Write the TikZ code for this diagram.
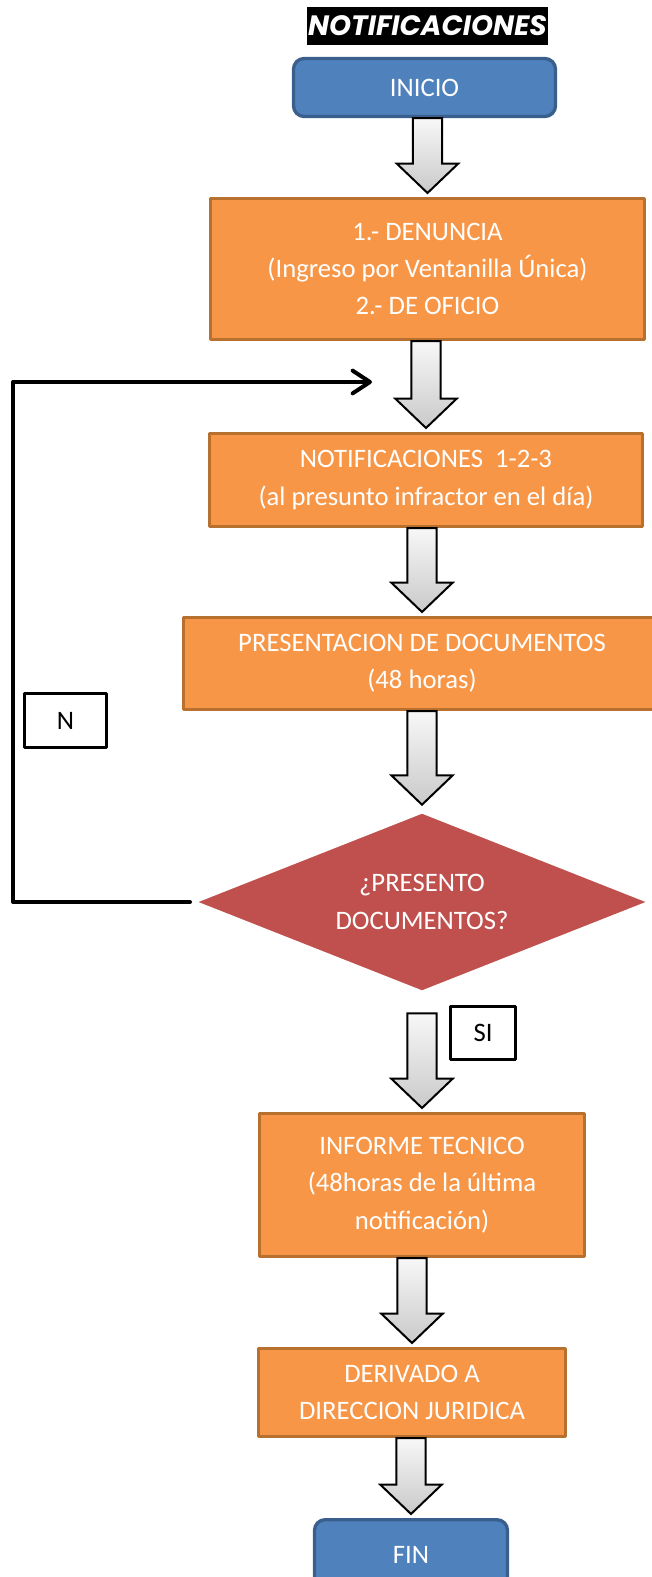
\documentclass[tikz,border=0pt]{standalone}
\usepackage{fontspec}
\setmainfont{Carlito}
\newfontfamily\titlefont{Poppins}
\usepackage{tikz}
\usetikzlibrary{arrows.meta, positioning, calc, shapes.geometric}
\definecolor{inicioblue}{HTML}{4F81BD}
\definecolor{inicioedge}{HTML}{3A5F8C}
\definecolor{pasoorange}{HTML}{F79646}
\definecolor{pasoedge}{HTML}{B8702F}
\definecolor{decred}{HTML}{C0504D}

\newcommand{\blkarrow}[2]{%
  \path[blkarr] let \p1=(#1), \p2=(#2) in
    (\x2-11pt,\y1) -- (\x2-11pt,\y2+25pt) -- (\x2-23pt,\y2+25pt) -- (\x2,\y2+3pt)
    -- (\x2+23pt,\y2+25pt) -- (\x2+11pt,\y2+25pt) -- (\x2+11pt,\y1) -- cycle;}

\begin{document}
\begin{tikzpicture}[x=0.75pt, y=-0.75pt, line join=round]
        \tikzset{txt/.style={font=\fontsize{20}{28}\selectfont}}
        \tikzset{paso/.style={rectangle, draw=pasoedge, fill=pasoorange, line width=2.25pt,
                              text=white, align=center, inner sep=0pt, txt}}
        \tikzset{extremo/.style={rectangle, rounded corners=8pt, draw=inicioedge, fill=inicioblue,
                                 line width=2.5pt, text=white, inner sep=0pt, txt}}
        \tikzset{decision/.style={diamond, aspect=2.5, draw=white, line width=3pt, fill=decred,
                                  text=white, align=center, inner sep=0pt, txt}}
        \tikzset{etiqueta/.style={rectangle, draw=black, line width=2.25pt, fill=white,
                                  inner sep=0pt, txt}}
        \tikzset{blkarr/.style={draw=black, line width=1.5pt, line join=miter,
                                top color=gray!6, bottom color=gray!42}}
        \tikzset{lazo/.style={line width=3pt, line cap=round,
                              -{Straight Barb[length=13pt, width=17pt, round]}}}
        \useasboundingbox (0,0) rectangle (652,1577);
        \node[fill=black, text=white, inner sep=0pt, minimum width=180.75pt, minimum height=28.5pt,
              font=\titlefont\bfseries\itshape\fontsize{21}{24}\selectfont] (titulo) at (427.5,26) {NOTIFICACIONES};
        \node[extremo, minimum width=196.5pt, minimum height=43.5pt] (inicio) at (424.5,87.5) {INICIO};
        \node[paso, minimum width=325.5pt, minimum height=105.75pt] (denuncia) at (427.5,269)
            {1.- DENUNCIA\\(Ingreso por Ventanilla Única)\\2.- DE OFICIO};
        \node[paso, minimum width=324.75pt, minimum height=69.75pt] (notif) at (426,480)
            {NOTIFICACIONES\ \ 1-2-3\\(al presunto infractor en el día)};
        \node[paso, minimum width=357.75pt, minimum height=69pt] (present) at (422,663.5)
            {PRESENTACION DE DOCUMENTOS\\(48 horas)};
        \node[decision, minimum width=345pt, minimum height=137pt] (pregunta) at (422,902)
            {¿PRESENTO\\DOCUMENTOS?};
        \node[paso, minimum width=243.75pt, minimum height=107.25pt] (informe) at (422,1185)
            {INFORME TECNICO\\(48horas de la última\\notificación)};
        \node[paso, minimum width=230.25pt, minimum height=66pt] (derivado) at (412,1392.5)
            {DERIVADO A\\DIRECCION JURIDICA};
        \node[extremo, minimum width=144.75pt, minimum height=53pt] (fin) at (411,1555) {FIN};
        \node[etiqueta, minimum width=61.5pt, minimum height=40.5pt] (no) at (65.5,720.5) {N};
        \node[etiqueta, minimum width=48.75pt, minimum height=39.75pt] (si) at (483,1033) {SI};
        \coordinate (reingreso) at (372,382);
        \blkarrow{inicio.south}{denuncia.north}
        \blkarrow{denuncia.south}{notif.north}
        \blkarrow{notif.south}{present.north}
        \blkarrow{present.south}{pregunta.north}
        \blkarrow{$(pregunta.south)+(0,18)$}{informe.north}
        \blkarrow{informe.south}{derivado.north}
        \blkarrow{derivado.south}{fin.north}
        \draw[lazo] (pregunta.west) -- (13,902) |- (reingreso);
    \end{tikzpicture}
\end{document}
